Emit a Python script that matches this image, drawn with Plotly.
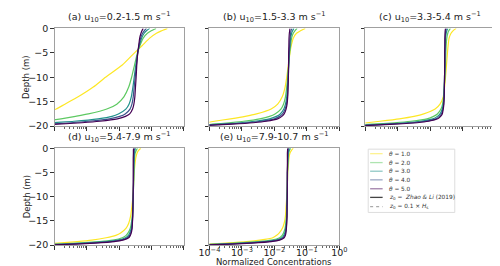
import plotly.graph_objects as go

# ---------------- data ----------------
DEPTH = [0, -0.5, -1, -2, -3.5, -5, -7.5, -10, -12, -14, -15.5, -16.5, -17.5,
         -18, -18.5, -19, -19.3, -19.6, -19.8, -20]

THETA_LABELS = ["1.0", "2.0", "3.0", "4.0", "5.0"]

PANEL_TITLES = [
    "(a) u<sub>10</sub>=0.2-1.5 m s<sup>−1</sup>",
    "(b) u<sub>10</sub>=1.5-3.3 m s<sup>−1</sup>",
    "(c) u<sub>10</sub>=3.3-5.4 m s<sup>−1</sup>",
    "(d) u<sub>10</sub>=5.4-7.9 m s<sup>−1</sup>",
    "(e) u<sub>10</sub>=7.9-10.7 m s<sup>−1</sup>",
]

# log10 of normalized concentration at each DEPTH, one row per theta
LOGC_A = [
    [-0.5, -0.68, -0.84, -1.05, -1.28, -1.52, -1.9, -2.42, -2.8, -3.27, -3.68, -3.95, -4.3, -4.5, -4.7, -4.9, -5.0, -5.1, -5.2, -5.3],
    [-0.85, -1.0, -1.12, -1.25, -1.35, -1.43, -1.52, -1.61, -1.7, -1.85, -2.07, -2.38, -2.95, -3.35, -3.8, -4.3, -4.6, -4.9, -5.1, -5.3],
    [-1.05, -1.15, -1.22, -1.3, -1.37, -1.42, -1.48, -1.53, -1.57, -1.62, -1.69, -1.79, -2.02, -2.22, -2.65, -3.4, -4.1, -4.6, -5.0, -5.3],
    [-1.15, -1.22, -1.27, -1.33, -1.38, -1.42, -1.46, -1.5, -1.53, -1.56, -1.6, -1.66, -1.81, -1.98, -2.3, -2.95, -3.5, -4.2, -4.7, -5.2],
    [-1.25, -1.29, -1.32, -1.36, -1.39, -1.42, -1.45, -1.47, -1.49, -1.51, -1.54, -1.58, -1.67, -1.8, -2.05, -2.6, -3.15, -3.9, -4.5, -5.1],
]
LOGC_B = [
    [-1.05, -1.2, -1.32, -1.42, -1.48, -1.52, -1.57, -1.62, -1.67, -1.76, -1.9, -2.1, -2.55, -2.9, -3.35, -3.85, -4.1, -4.4, -4.6, -4.8],
    [-1.3, -1.37, -1.42, -1.47, -1.5, -1.53, -1.56, -1.59, -1.62, -1.66, -1.72, -1.8, -1.98, -2.15, -2.45, -2.95, -3.4, -3.9, -4.3, -4.7],
    [-1.4, -1.44, -1.47, -1.5, -1.52, -1.54, -1.56, -1.58, -1.6, -1.62, -1.66, -1.71, -1.82, -1.94, -2.15, -2.6, -3.05, -3.7, -4.2, -4.7],
    [-1.46, -1.49, -1.5, -1.52, -1.53, -1.55, -1.56, -1.57, -1.58, -1.6, -1.63, -1.67, -1.75, -1.84, -2.0, -2.4, -2.85, -3.5, -4.05, -4.6],
    [-1.52, -1.53, -1.54, -1.55, -1.555, -1.56, -1.565, -1.57, -1.58, -1.59, -1.61, -1.64, -1.7, -1.77, -1.9, -2.25, -2.65, -3.3, -3.9, -4.5],
]
LOGC_C = [
    [-1.2, -1.3, -1.36, -1.42, -1.45, -1.47, -1.5, -1.53, -1.56, -1.6, -1.7, -1.85, -2.2, -2.5, -2.95, -3.55, -3.95, -4.3, -4.5, -4.7],
    [-1.38, -1.43, -1.46, -1.49, -1.51, -1.52, -1.53, -1.55, -1.57, -1.59, -1.62, -1.67, -1.78, -1.9, -2.1, -2.6, -3.1, -3.8, -4.3, -4.7],
    [-1.46, -1.49, -1.51, -1.53, -1.54, -1.545, -1.55, -1.56, -1.57, -1.58, -1.6, -1.63, -1.7, -1.78, -1.92, -2.3, -2.75, -3.45, -4.0, -4.6],
    [-1.5, -1.52, -1.53, -1.54, -1.545, -1.55, -1.555, -1.56, -1.565, -1.575, -1.59, -1.61, -1.66, -1.72, -1.83, -2.15, -2.55, -3.25, -3.85, -4.5],
    [-1.53, -1.54, -1.545, -1.55, -1.55, -1.555, -1.555, -1.56, -1.565, -1.57, -1.58, -1.6, -1.63, -1.68, -1.77, -2.05, -2.4, -3.1, -3.7, -4.4],
]
LOGC_D = [
    [-1.33, -1.4, -1.44, -1.48, -1.51, -1.53, -1.55, -1.57, -1.6, -1.64, -1.7, -1.78, -1.95, -2.1, -2.4, -2.85, -3.3, -3.9, -4.3, -4.7],
    [-1.43, -1.47, -1.5, -1.52, -1.53, -1.54, -1.55, -1.56, -1.57, -1.59, -1.62, -1.65, -1.72, -1.78, -1.9, -2.2, -2.6, -3.3, -3.9, -4.6],
    [-1.49, -1.51, -1.52, -1.53, -1.54, -1.545, -1.55, -1.56, -1.57, -1.58, -1.6, -1.62, -1.67, -1.71, -1.8, -2.05, -2.4, -3.1, -3.7, -4.5],
    [-1.52, -1.53, -1.54, -1.545, -1.55, -1.55, -1.555, -1.56, -1.565, -1.575, -1.59, -1.6, -1.64, -1.67, -1.74, -1.95, -2.25, -2.9, -3.5, -4.4],
    [-1.55, -1.555, -1.555, -1.56, -1.56, -1.56, -1.56, -1.565, -1.57, -1.575, -1.585, -1.595, -1.62, -1.65, -1.7, -1.88, -2.15, -2.75, -3.35, -4.3],
]
LOGC_E = [
    [-1.42, -1.48, -1.52, -1.55, -1.57, -1.59, -1.6, -1.62, -1.64, -1.66, -1.7, -1.75, -1.85, -1.93, -2.05, -2.45, -2.85, -3.5, -4.0, -4.6],
    [-1.5, -1.54, -1.56, -1.58, -1.59, -1.6, -1.605, -1.61, -1.62, -1.63, -1.65, -1.67, -1.72, -1.76, -1.84, -2.1, -2.5, -3.2, -3.8, -4.5],
    [-1.54, -1.56, -1.57, -1.58, -1.59, -1.595, -1.6, -1.61, -1.615, -1.62, -1.635, -1.65, -1.68, -1.71, -1.77, -1.97, -2.3, -3.0, -3.6, -4.4],
    [-1.57, -1.58, -1.585, -1.59, -1.595, -1.6, -1.6, -1.605, -1.61, -1.615, -1.625, -1.635, -1.66, -1.68, -1.73, -1.9, -2.2, -2.85, -3.45, -4.3],
    [-1.59, -1.595, -1.6, -1.6, -1.6, -1.605, -1.605, -1.605, -1.61, -1.61, -1.62, -1.63, -1.645, -1.66, -1.7, -1.84, -2.1, -2.7, -3.3, -4.2],
]
PANELS = [LOGC_A, LOGC_B, LOGC_C, LOGC_D, LOGC_E]

Y_TICKS = [0, -5, -10, -15, -20]
X_TICKS = [1e-4, 1e-3, 1e-2, 1e-1, 1e0]
X_TICK_TEXT = ["10<sup>−4</sup>", "10<sup>−3</sup>", "10<sup>−2</sup>", "10<sup>−1</sup>", "10<sup>0</sup>"]
X_TITLE = "Normalized Concentrations"
Y_TITLE = "Depth (m)"

LEGEND_LABELS = ["<i>θ</i> = 1.0", "<i>θ</i> = 2.0", "<i>θ</i> = 3.0", "<i>θ</i> = 4.0", "<i>θ</i> = 5.0",
                 "<i>z</i><sub>0</sub> =  <i>Zhao & Li</i> (2019)",
                 "<i>z</i><sub>0</sub> = 0.1 × <i>H</i><sub>s</sub>"]

# ---------------- style ----------------
W, H = 500, 266
COLORS = ["#fde725", "#5ec962", "#21918c", "#3b528b", "#440154"]
LEG_COLORS = ["#fdf292", "#aee4b0", "#90c8c5", "#9da9c5", "#a180aa", "#444444", "#aaaaaa"]
FONT = "DejaVu Sans"
TICK_SIZE = 9.5
TITLE_SIZE = 9.5
LABEL_SIZE = 8.5

# panel boxes in pixels: (left, right, top, bottom)
BOXES = [(37, 171, 15, 117), (198, 333, 15, 117), (360, 495, 15, 117),
         (37, 171, 140, 241), (198, 333, 140, 241)]

def fx(px):
    return px / W

def fy(py):
    return 1 - py / H

fig = go.Figure()
layout = dict(
    width=W, height=H, margin=dict(l=0, r=0, t=0, b=0),
    plot_bgcolor="white", paper_bgcolor="white", showlegend=False,
    font=dict(family=FONT, size=8, color="#222"),
)
annotations = []
shapes = []

for i, (data, box) in enumerate(zip(PANELS, BOXES)):
    n = i + 1
    xa = "x" if n == 1 else f"x{n}"
    ya = "y" if n == 1 else f"y{n}"
    for k, row in enumerate(data):
        fig.add_trace(go.Scatter(
            x=[10 ** v for v in row], y=DEPTH, mode="lines",
            line=dict(color=COLORS[k], width=1.2, shape="spline", smoothing=0.6),
            xaxis=xa, yaxis=ya, name=f"θ = {THETA_LABELS[k]}", showlegend=False,
        ))
    l, r, t, b = box
    show_x = (i == 4)
    show_y = (i in (0, 3))
    xax = dict(
        domain=[fx(l), fx(r)], anchor=ya, type="log", range=[-4, 0],
        tickvals=X_TICKS, ticktext=X_TICK_TEXT, showticklabels=show_x,
        ticks="outside", ticklen=3.5, tickwidth=0.8, tickcolor="#333",
        showline=True, linecolor="#a0a0a0", linewidth=1, mirror=True,
        showgrid=False, zeroline=False,
        minor=dict(ticks="outside", dtick="D1", ticklen=2, tickwidth=0.6, tickcolor="#666", showgrid=False),
        tickfont=dict(size=TICK_SIZE, color="#222"), ticklabelstandoff=-5,
    )
    yax = dict(
        domain=[fy(b), fy(t)], anchor=xa, range=[-20, 0],
        tickvals=Y_TICKS, showticklabels=show_y,
        ticks="outside", ticklen=3.5, tickwidth=0.8, tickcolor="#333",
        showline=True, linecolor="#a0a0a0", linewidth=1, mirror=True,
        showgrid=False, zeroline=False, tickfont=dict(size=TICK_SIZE, color="#222"),
    )
    layout["xaxis" if n == 1 else f"xaxis{n}"] = xax
    layout["yaxis" if n == 1 else f"yaxis{n}"] = yax
    annotations.append(dict(
        text=PANEL_TITLES[i], x=(fx(l) + fx(r)) / 2, y=fy(t - 2), xref="paper", yref="paper",
        xanchor="center", yanchor="bottom", showarrow=False, font=dict(size=TITLE_SIZE, color="#222"),
    ))
    if show_y:
        annotations.append(dict(
            text=Y_TITLE, x=fx(8), y=(fy(t) + fy(b)) / 2, xref="paper", yref="paper",
            xanchor="center", yanchor="middle", textangle=-90, showarrow=False,
            font=dict(size=LABEL_SIZE, color="#222"),
        ))
    if show_x:
        annotations.append(dict(
            text=X_TITLE, x=(fx(l) + fx(r)) / 2, y=fy(258.5), xref="paper", yref="paper",
            xanchor="center", yanchor="middle", showarrow=False, font=dict(size=LABEL_SIZE, color="#222"),
        ))

# manual legend (compact)
lx0, lx1, ly0, ly1 = 363, 453, 141, 207
shapes.append(dict(type="rect", xref="paper", yref="paper", x0=fx(lx0), x1=fx(lx1),
                   y0=fy(ly1), y1=fy(ly0), line=dict(color="#dddddd", width=1), fillcolor="white"))
ENTRY_Y = [145.7, 155, 164, 173, 182.3, 191.3, 201]
for j, lab in enumerate(LEGEND_LABELS):
    yy = fy(ENTRY_Y[j])
    dash = "dot" if j == 6 else "solid"
    shapes.append(dict(type="line", xref="paper", yref="paper", x0=fx(365), x1=fx(378), y0=yy, y1=yy,
                       line=dict(color=LEG_COLORS[j], width=1.3, dash=dash)))
    annotations.append(dict(text=lab, x=fx(383), y=yy, xref="paper", yref="paper",
                            xanchor="left", yanchor="middle", showarrow=False,
                            font=dict(size=5.8, color="#333")))

layout["annotations"] = annotations
layout["shapes"] = shapes
fig.update_layout(**layout)
fig.write_html("out.html")
